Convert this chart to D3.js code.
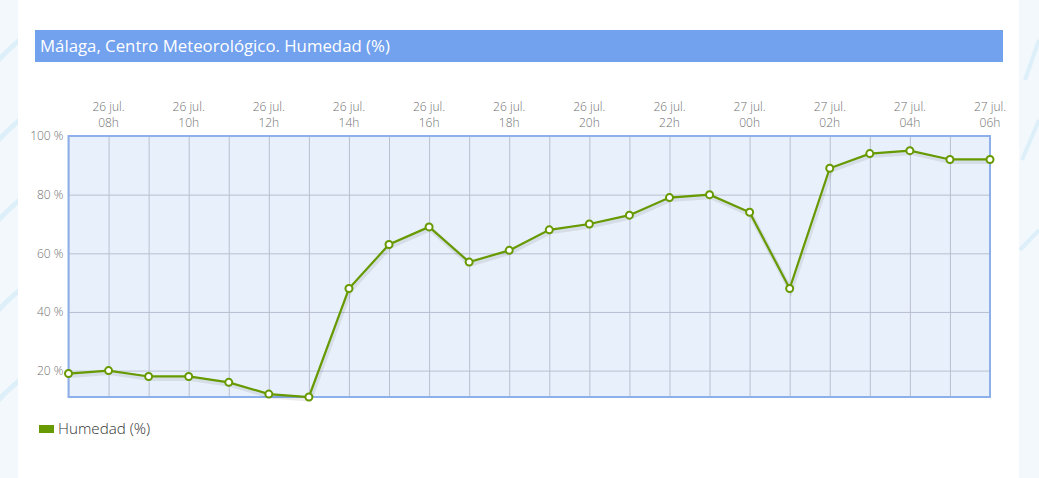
<!DOCTYPE html>
<html>
<head>
<meta charset="utf-8">
<script src="https://cdn.jsdelivr.net/npm/d3@7"></script>
<style>
    body { margin: 0; background: #eaf4fb; font-family: "Open Sans", sans-serif; }
    svg { display: block; }
</style>
</head>
<body>
<div id="chart"></div>
<script>
// horas observadas (26 jul. 07h .. 27 jul. 06h)
var days = ["26 jul.", "26 jul.", "26 jul.", "26 jul.", "26 jul.", "26 jul.", "26 jul.", "26 jul.",
            "26 jul.", "26 jul.", "26 jul.", "26 jul.", "26 jul.", "26 jul.", "26 jul.", "26 jul.", "26 jul.",
            "27 jul.", "27 jul.", "27 jul.", "27 jul.", "27 jul.", "27 jul.", "27 jul."];
var hours = ["07h", "08h", "09h", "10h", "11h", "12h", "13h", "14h", "15h", "16h", "17h", "18h",
             "19h", "20h", "21h", "22h", "23h", "00h", "01h", "02h", "03h", "04h", "05h", "06h"];

// humedad relativa (%)
var humidity = [19, 20, 18, 18, 16, 12, 11, 48, 63, 69, 57, 61,
                68, 70, 73, 79, 80, 74, 48, 89, 94, 95, 92, 92];

// marcas del eje y
var yTicks = [20, 40, 60, 80, 100];

var width = 1039, height = 478;
var margin = { top: 136, right: 49, bottom: 81, left: 68.5 };
var plotW = width - margin.left - margin.right;
var plotH = height - margin.top - margin.bottom;

var svg = d3.select("#chart").append("svg")
    .attr("width", width)
    .attr("height", height);

// page background with some pale curves on the sides
var bg = svg.append("g");
bg.append("rect")
    .attr("width", width).attr("height", height)
    .attr("fill", "#f2f8fc");
[40, 120, 200, 290, 380].forEach(function(y0) {
    bg.append("path")
        .attr("d", "M-10," + (y0 + 30) + " Q10," + (y0 + 5) + " 40," + (y0 - 15))
        .attr("fill", "none").attr("stroke", "#ddeff9").attr("stroke-width", 5);
});
bg.append("path")
    .attr("d", "M1025,80 L1039,40 M1022,160 L1039,120 M1020,250 L1039,230")
    .attr("fill", "none").attr("stroke", "#ddeff9").attr("stroke-width", 4);
bg.append("rect")
    .attr("x", 18).attr("y", 0)
    .attr("width", 1001).attr("height", height)
    .attr("fill", "#ffffff");

// title bar
svg.append("rect")
    .attr("x", 35).attr("y", 30)
    .attr("width", 968).attr("height", 32)
    .attr("fill", "#72a1ee");
svg.append("text")
    .attr("x", 40).attr("y", 52)
    .attr("fill", "#ffffff")
    .style("font-size", "16.8px")
    .text("Málaga, Centro Meteorológico. Humedad (%)");

var g = svg.append("g")
    .attr("transform", "translate(" + margin.left + "," + margin.top + ")");

// scales
var x = d3.scalePoint()
    .domain(d3.range(hours.length))
    .range([0, plotW]);

var y = d3.scaleLinear()
    .domain([d3.min(humidity), 100])
    .range([plotH, 0]);

// plot background
g.append("rect")
    .attr("width", plotW).attr("height", plotH)
    .attr("fill", "#e8f0fb");

// vertical grid
g.append("g")
    .attr("class", "x grid")
    .call(d3.axisBottom(x).tickSize(plotH).tickFormat(""))
    .call(function(s) {
        s.select(".domain").remove();
        s.selectAll("line").attr("stroke", "#b9bfd0").attr("stroke-width", 1);
    });

// horizontal grid
g.append("g")
    .attr("class", "y grid")
    .call(d3.axisLeft(y).tickValues(yTicks).tickSize(-plotW).tickFormat(""))
    .call(function(s) {
        s.select(".domain").remove();
        s.selectAll("line").attr("stroke", "#b9bfd0").attr("stroke-width", 1);
    });

// y axis labels
g.append("g")
    .attr("class", "y axis")
    .call(d3.axisLeft(y).tickValues(yTicks).tickSize(0).tickPadding(5)
        .tickFormat(function(d) { return d + " %"; }))
    .call(function(s) {
        s.select(".domain").remove();
        s.selectAll("text")
            .attr("fill", "#707070")
            .style("font-size", "12px")
            .style("font-weight", "300")
            .style("font-family", "Open Sans");
    });

// x axis labels, every second hour, above the plot
var labelIdx = d3.range(1, hours.length, 2);
var xLabels = g.append("g").attr("class", "x axis");
labelIdx.forEach(function(i) {
    var t = xLabels.append("text")
        .attr("text-anchor", "middle")
        .attr("fill", "#707070")
        .style("font-size", "12px")
        .style("font-weight", "300");
    t.append("tspan").attr("x", x(i)).attr("y", -25).text(days[i]);
    t.append("tspan").attr("x", x(i)).attr("y", -9).text(hours[i]);
});

// plot border
g.append("rect")
    .attr("width", plotW).attr("height", plotH)
    .attr("fill", "none")
    .attr("stroke", "#8db0ea")
    .attr("stroke-width", 2);

// line
var line = d3.line()
    .x(function(d, i) { return x(i); })
    .y(function(d) { return y(d); });

// shadow
g.append("path")
    .datum(humidity)
    .attr("d", line)
    .attr("transform", "translate(1,2)")
    .attr("fill", "none")
    .attr("stroke", "#000")
    .attr("stroke-opacity", 0.08)
    .attr("stroke-width", 5);

g.append("path")
    .datum(humidity)
    .attr("d", line)
    .attr("fill", "none")
    .attr("stroke", "#679a00")
    .attr("stroke-width", 2.2);

// markers
g.selectAll(".dot")
    .data(humidity)
    .enter().append("circle")
    .attr("class", "dot")
    .attr("cx", function(d, i) { return x(i); })
    .attr("cy", function(d) { return y(d); })
    .attr("r", 3.5)
    .attr("fill", "#ffffff")
    .attr("stroke", "#679a00")
    .attr("stroke-width", 2);

// legend
svg.append("rect")
    .attr("x", 39).attr("y", 425)
    .attr("width", 15).attr("height", 8)
    .attr("fill", "#679a00");
svg.append("text")
    .attr("x", 58).attr("y", 434)
    .attr("fill", "#333333")
    .style("font-size", "15.2px")
    .style("font-weight", "300")
    .text("Humedad (%)");
</script>
</body>
</html>
